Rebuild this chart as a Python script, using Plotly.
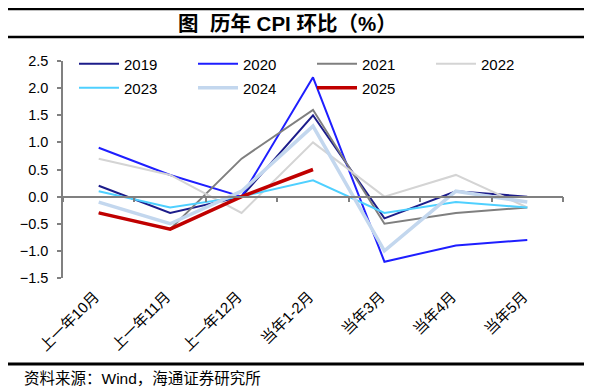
import plotly.graph_objects as go

categories = ["上一年10月", "上一年11月", "上一年12月", "当年1-2月", "当年3月", "当年4月", "当年5月"]
years = ["2019", "2020", "2021", "2022", "2023", "2024", "2025"]
v2019 = [0.2, -0.3, 0.0, 1.5, -0.4, 0.1, 0.0]
v2020 = [0.9, 0.4, 0.0, 2.2, -1.2, -0.9, -0.8]
v2021 = [-0.3, -0.6, 0.7, 1.6, -0.5, -0.3, -0.2]
v2022 = [0.7, 0.4, -0.3, 1.0, 0.0, 0.4, -0.2]
v2023 = [0.1, -0.2, 0.0, 0.3, -0.3, -0.1, -0.2]
v2024 = [-0.1, -0.5, 0.1, 1.3, -1.0, 0.1, -0.1]
v2025 = [-0.3, -0.6, 0.0, 0.5]
yticks = [-1.5, -1.0, -0.5, 0.0, 0.5, 1.0, 1.5, 2.0, 2.5]

series = [v2019, v2020, v2021, v2022, v2023, v2024, v2025]
colors = ["#1c1c8a", "#1e1eff", "#7f7f7f", "#d4d4d4", "#4fd0ff", "#c3d7ee", "#c00000"]
widths = [2, 2, 2, 2, 2, 3.5, 3.5]
legend_ids = ["legend", "legend", "legend", "legend", "legend2", "legend2", "legend2"]

FONT = "Liberation Sans, Arial, Noto Sans CJK SC"

fig = go.Figure()
for name, vals, c, w, lg in zip(years, series, colors, widths, legend_ids):
    fig.add_trace(go.Scatter(
        x=categories[:len(vals)], y=vals, name=name, mode="lines",
        line=dict(color=c, width=w), legend=lg,
    ))

O = 8  # page body margin offset
W, H = 592 - O, 391 - O
ml, mr, mt, mb = 63 - O, 592 - 563, 61 - O, 391 - 278
PW, PH = W - ml - mr, H - mt - mb

def px_x(x):
    return (x - O - ml) / PW

def px_y(y):
    return 1 - (y - O - mt) / PH

legend_common = dict(
    orientation="h", xanchor="left", yanchor="middle",
    entrywidth=64, entrywidthmode="pixels",
    font=dict(size=15, family=FONT), bgcolor="rgba(0,0,0,0)",
    tracegroupgap=0, itemwidth=40,
)

fig.update_layout(
    width=W, height=H,
    margin=dict(l=ml, r=mr, t=mt, b=mb, autoexpand=False),
    paper_bgcolor="white", plot_bgcolor="white",
    font=dict(family=FONT, size=13, color="black"),
    showlegend=True,
    legend=dict(x=px_x(74), y=px_y(64), **legend_common),
    legend2=dict(x=px_x(74), y=px_y(88), **legend_common),
    xaxis=dict(
        type="category", categoryorder="array", categoryarray=categories,
        range=[-0.5, 6.5], showline=False, showgrid=False, zeroline=False,
        ticks="", tickangle=-45, tickfont=dict(size=15, family=FONT),
        ticklabelshift=-4, ticklabelstandoff=6,
        automargin=False,
    ),
    xaxis2=dict(
        overlaying="x", anchor="free", position=1.5 / 4, side="bottom",
        range=[-0.5, 6.5], showline=True, linecolor="#808080", linewidth=1.5,
        ticks="outside", ticklen=5, tickcolor="#808080", tickwidth=1.5,
        tickvals=[i - 0.5 for i in range(8)], showticklabels=False,
        showgrid=False, zeroline=False,
    ),
    yaxis=dict(
        range=[-1.5, 2.5], tickvals=yticks, tickformat=".1f",
        showline=True, linecolor="#808080", linewidth=1.5,
        ticks="outside", ticklen=4, tickcolor="#808080", tickwidth=1.5,
        showgrid=False, zeroline=False, tickfont=dict(size=14.5, family=FONT),
        ticklabelstandoff=6, automargin=False,
    ),
)

# invisible trace to activate xaxis2
fig.add_trace(go.Scatter(x=[0], y=[0], xaxis="x2", mode="markers",
                         marker=dict(opacity=0), showlegend=False, hoverinfo="skip"))

fig.add_annotation(text="<b>图  历年 CPI 环比（%）</b>", xref="paper", yref="paper",
                   x=px_x(287), y=px_y(23), xanchor="center", yanchor="middle", showarrow=False,
                   font=dict(size=20.5, family=FONT, color="black"))
fig.add_annotation(text="资料来源：Wind，海通证券研究所", xref="paper", yref="paper",
                   x=px_x(22), y=px_y(378), xanchor="left", yanchor="middle", showarrow=False,
                   font=dict(size=15.5, family=FONT, color="black"))

def hline(ypx, w):
    fig.add_shape(type="line", xref="paper", yref="paper",
                  x0=px_x(8), x1=px_x(584), y0=px_y(ypx), y1=px_y(ypx),
                  line=dict(color="black", width=w))

hline(9, 2.5)
hline(37, 2.5)
hline(364, 3)

fig.write_html("out.html")
